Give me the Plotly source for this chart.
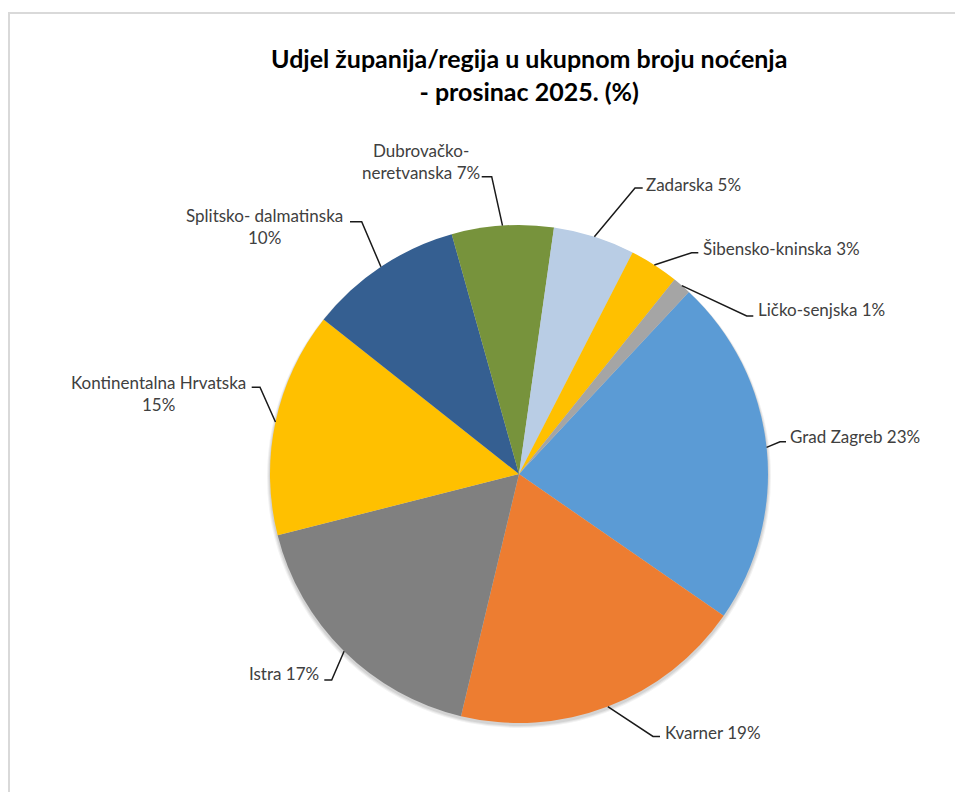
import math
import plotly.graph_objects as go

# ---- data ----
regions = ["Grad Zagreb", "Kvarner", "Istra", "Kontinentalna Hrvatska",
           "Splitsko- dalmatinska", "Dubrovačko-neretvanska", "Zadarska",
           "Šibensko-kninska", "Ličko-senjska"]
shares = [22.7, 19.1, 17.3, 14.6, 10.0, 6.6, 5.3, 3.2, 1.2]
label_names = ["Grad Zagreb", "Kvarner", "Istra", "Kontinentalna Hrvatska",
               "Splitsko- dalmatinska", "Dubrovačko-<br>neretvanska", "Zadarska",
               "Šibensko-kninska", "Ličko-senjska"]
label_sep = [" ", " ", " ", "<br>", "<br>", " ", " ", " ", " "]
colors = ["#5B9BD5", "#ED7D31", "#808080", "#FFC000", "#355F91",
          "#77933C", "#B9CDE5", "#FFC000", "#A5A5A5"]
title_text = "Udjel županija/regija u ukupnom broju noćenja<br>- prosinac 2025. (%)"

# ---- layout / style ----
W, H = 963, 792
OFF = 8  # page body margin
CX, CY, R = 519, 474, 249
ROT = 43
FONT = "Lato"

# label styles: (elbow_x, elbow_y, end_x, text_x, text_y, xanchor)
label_style = [
    (780, 441.7, 786, 788, 436.5, "left"),
    (653, 736.5, 660, 663, 732, "left"),
    (331.7, 680, 324.3, 321, 673.5, "right"),
    (260, 387.3, 251.7, 158.5, 393, "center"),
    (361.7, 221.7, 350, 264.5, 227, "center"),
    (491.7, 176.7, 481.7, 421, 161.5, "center"),
    (635, 188, 642.7, 644, 184, "left"),
    (691.7, 252.7, 698.3, 701, 248.5, "left"),
    (746.7, 316, 753.3, 756, 310, "left"),
]


def px(x):
    return (x - OFF) / W


def py(y):
    return 1 - (y - OFF) / H


fig = go.Figure()
fig.add_trace(go.Pie(
    labels=regions, values=shares, sort=False, direction="clockwise",
    rotation=ROT, textinfo="none", hoverinfo="label+percent",
    marker=dict(colors=colors, line=dict(width=0)),
    domain=dict(x=[px(CX - R), px(CX + R)], y=[py(CY + R), py(CY - R)]),
    showlegend=False,
))

shapes = []
# chart-area border
shapes.append(dict(type="rect", xref="paper", yref="paper",
                   x0=px(9), x1=px(W + 30), y0=py(H + 30), y1=py(13),
                   line=dict(color="#D9D9D9", width=2), fillcolor="rgba(0,0,0,0)"))
# soft shadow
for k, a in [(4, 0.05), (3, 0.06), (2, 0.07)]:
    shapes.append(dict(type="circle", xref="paper", yref="paper", layer="below",
                       x0=px(CX - R - k + 1), x1=px(CX + R + k - 1),
                       y0=py(CY + R + k + 1), y1=py(CY - R + 1),
                       line=dict(width=0), fillcolor=f"rgba(0,0,0,{a})"))

annotations = []
total = sum(shares)
cum = 0.0
for i, v in enumerate(shares):
    mid = math.radians(ROT + (cum + v / 2) / total * 360)
    cum += v
    sx = CX + R * math.sin(mid)
    sy = CY - R * math.cos(mid)
    ex, ey, hx, tx, ty, anc = label_style[i]
    path = f"M {px(sx)},{py(sy)} L {px(ex)},{py(ey)} L {px(hx)},{py(ey)}"
    shapes.append(dict(type="path", xref="paper", yref="paper", path=path,
                       line=dict(color="#1A1A1A", width=1.5)))
    pct = round(v / total * 100)
    annotations.append(dict(
        text=f"{label_names[i]}{label_sep[i]}{pct}%", x=px(tx), y=py(ty),
        xref="paper", yref="paper", xanchor=anc, yanchor="middle",
        align="center", showarrow=False,
        font=dict(family=FONT, size=17, color="#404040")))

annotations.append(dict(text=f"<b>{title_text}</b>", x=px(528.5), y=py(75),
                        xref="paper", yref="paper", xanchor="center", yanchor="middle",
                        align="center", showarrow=False,
                        font=dict(family=FONT, size=25, color="#000000")))

fig.update_layout(width=W, height=H, margin=dict(l=0, r=0, t=0, b=0),
                  paper_bgcolor="white", plot_bgcolor="white",
                  shapes=shapes, annotations=annotations)
fig.write_html("out.html")
